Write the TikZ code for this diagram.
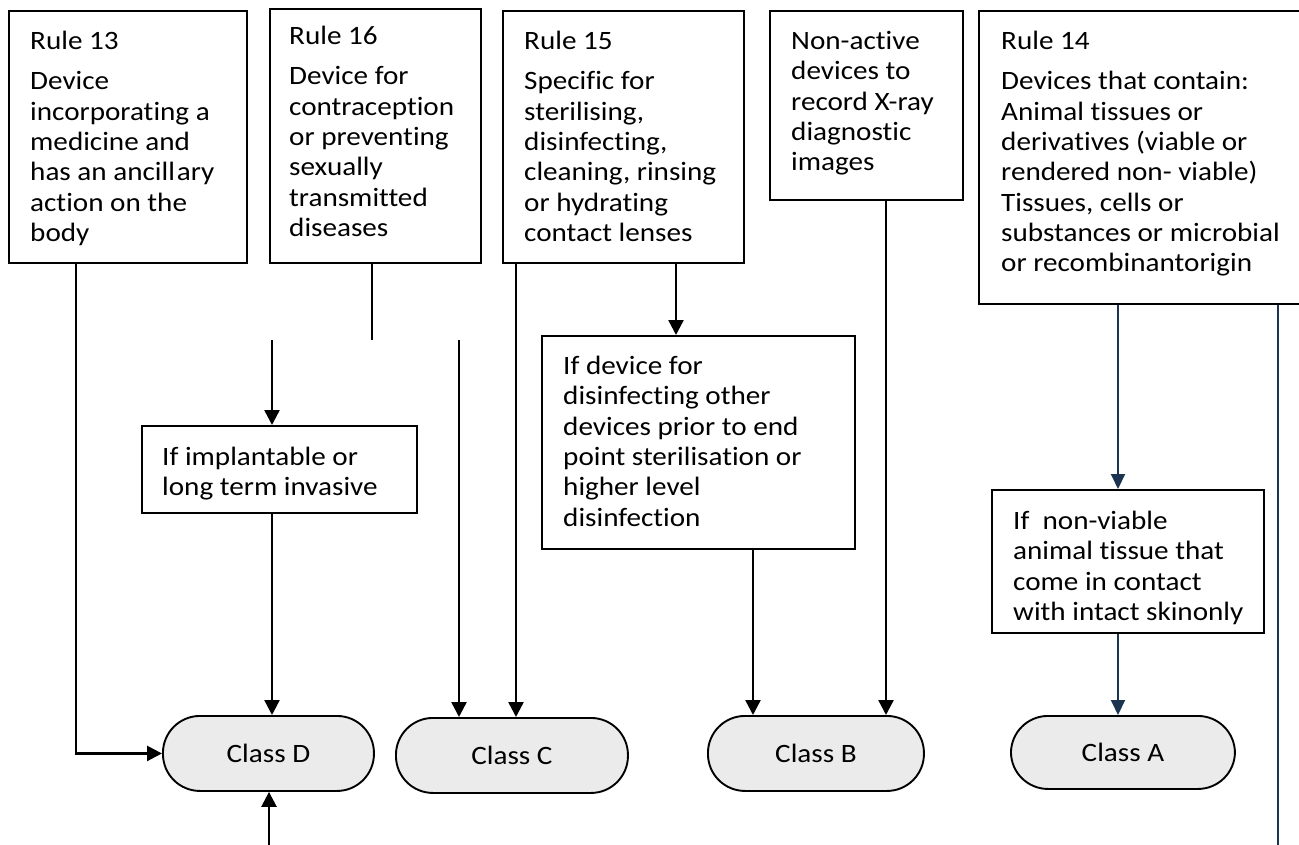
\documentclass[tikz,border=0pt]{standalone}
\usepackage{fontspec}
\setmainfont{Carlito}[Ligatures={NoCommon}, FakeStretch=1.1]
\usetikzlibrary{arrows.meta,calc}
\definecolor{navy}{HTML}{1B3550}
\definecolor{classfill}{HTML}{EBEBEB}
\tikzset{
 box/.style={draw, line width=1.9pt, anchor=north west, inner sep=0pt},
 txt/.style={anchor=north west, align=left, inner sep=0pt, font=\fontsize{26.5}{30.3}\selectfont},
 cls/.style={draw, line width=1.9pt, fill=classfill, rounded corners=37pt, anchor=north west, inner sep=0pt, font=\fontsize{26.5}{30}\selectfont},
 ln/.style={line width=2.5pt},
 arr/.style={line width=2.5pt, -{Triangle[width=15pt,length=15pt]}},
 nln/.style={line width=2pt, draw=navy},
 narr/.style={line width=2pt, draw=navy, fill=navy, -{Triangle[width=14pt,length=15pt]}}
}
\begin{document}
\begin{tikzpicture}[x=1pt,y=-1pt]
\clip (0,0) rectangle (1299,845);
% boxes
\node[box, minimum width=238pt, minimum height=252pt] (r13) at (8,10) {};
\node[box, minimum width=211pt, minimum height=254pt] (r16) at (269,8) {};
\node[box, minimum width=241pt, minimum height=252pt] (r15) at (502,10) {};
\node[box, minimum width=193pt, minimum height=189pt] (na) at (769,10) {};
\node[box, minimum width=330pt, minimum height=293pt] (r14) at (978,10) {};
\node[box, minimum width=275pt, minimum height=87pt] (impl) at (141,425) {};
\node[box, minimum width=313pt, minimum height=213pt] (ifd) at (541,335) {};
\node[box, minimum width=272pt, minimum height=143pt] (nv) at (991,489) {};
% texts
\node[txt] (r13t) at (30,31) {Rule 13\\[10pt]Device\\incorporating a\\medicine and\\has an ancill\hspace{2pt}ary\\action on the\\body};
\node[txt] (r16t) at (289,26) {Rule 16\\[10pt]Device for\\contraception\\or preventing\\sexually\\transmitted\\diseases};
\node[txt] (r15t) at (524,31) {Rule 15\\[10pt]Specific for\\sterilising,\\disinfecting,\\cleaning, rinsing\\or hydrating\\contact lenses};
\node[txt] (nat) at (791,31) {Non-active\\devices to\\record X-ray\\diagnostic\\images};
\node[txt] (r14t) at (1001,31) {Rule 14\\[10pt]Devices that contain:\\Animal tissues or\\derivatives (viable or\\rendered non- viable)\\Tissues, cells or\\substances or microbial\\or recombinantorigin};
\node[txt] (implt) at (162,447) {If implantable or\\long term invasive};
\node[txt] (ifdt) at (563,356) {If device for\\disinfecting other\\devices prior to end\\point sterilisation or\\higher level\\disinfection};
\node[txt] (nvt) at (1013,511) {If\ \ non-viable\\animal tissue that\\come in contact\\with intact skinonly};
% classes
\node[cls, minimum width=211pt, minimum height=75pt] (cD) at (162,715) {Class D};
\node[cls, minimum width=232pt, minimum height=75pt] (cC) at (395,717) {Class C};
\node[cls, minimum width=216pt, minimum height=75pt] (cB) at (707,715) {Class B};
\node[cls, minimum width=224pt, minimum height=73pt] (cA) at (1010,715) {Class A};
% free ends
\coordinate (j0) at (372,340);
\coordinate (j1) at (272,340);
\coordinate (j2) at (459,340);
\coordinate (j3) at (1278,845);
\coordinate (j4) at (269,845);
% connectors
\draw[arr] (76,0 |- r13.south) |- (cD.west);
\draw[ln] (372,0 |- r16.south) -- (j0);
\draw[arr] (j1) -- (impl.north -| j1);
\draw[arr] (impl.south -| j1) -- (cD.north -| j1);
\draw[arr] (j2) -- (cC.north -| j2);
\draw[arr] (516,0 |- r15.south) -- (cC.north -| 516,0);
\draw[arr] (676,0 |- r15.south) -- (ifd.north -| 676,0);
\draw[arr] (753,0 |- ifd.south) -- (cB.north -| 753,0);
\draw[arr] (886,0 |- na.south) -- (cB.north -| 886,0);
\draw[narr] (1118,0 |- r14.south) -- (nv.north -| 1118,0);
\draw[narr] (1118,0 |- nv.south) -- (cA.north -| 1118,0);
\draw[nln] (1278,0 |- r14.south) -- (j3);
\draw[arr] (j4) -- (cD.south -| j4);
\end{tikzpicture}
\end{document}
